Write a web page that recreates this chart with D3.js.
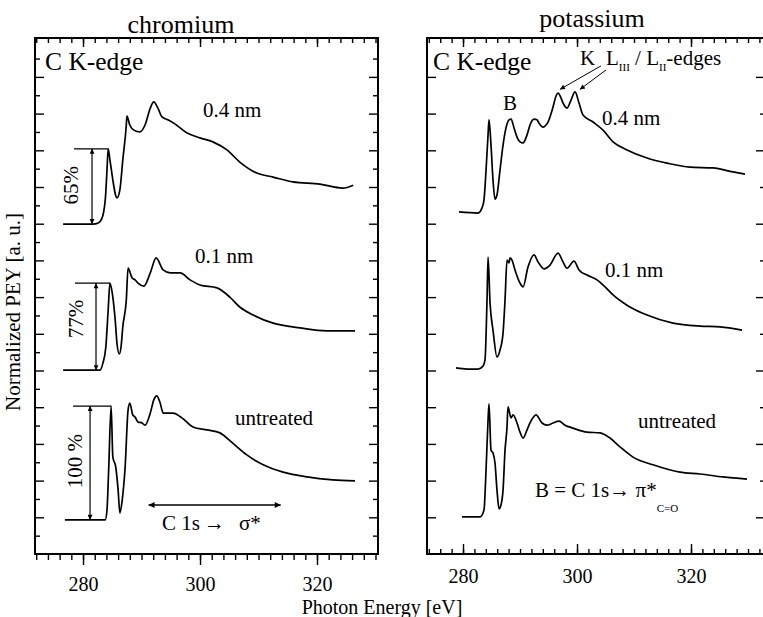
<!DOCTYPE html>
<html><head><meta charset="utf-8">
<script src="https://cdn.jsdelivr.net/npm/d3@7"></script>
<style>
body{margin:0;background:#fff}
svg{display:block}
text{font-family:"Liberation Serif","Times New Roman",serif;fill:#000}
</style>
</head><body>
<svg id="chart" width="763" height="617"></svg>
<script>
// ---------- DATA ----------
// Photon energy ticks
const xTickValues = [280, 300, 320];
const panelTitles = ["chromium", "potassium"];
const curveLabels = ["0.4 nm", "0.1 nm", "untreated"];

// chromium, 0.4 nm
const crE04 = [276.6,281.7,282.6,283.2,283.8,284.1,284.3,284.6,285.1,285.6,285.8,286.3,286.8,287.4,287.5,288.0,288.7,289.7,290.6,291.5,292.1,292.8,293.5,294.5,295.7,297.8,300.0,302.2,304.6,306.8,309.7,312.5,315.9,320.5,324.4,326.2];
const crV04 = [8.99,8.99,9.02,9.13,9.65,10.46,11.04,10.74,10.19,9.76,9.70,9.92,10.74,11.69,11.93,11.69,11.55,11.50,11.69,12.15,12.32,12.15,11.91,11.83,11.72,11.47,11.34,11.23,11.01,10.68,10.38,10.27,10.14,10.08,9.97,10.05];
// chromium, 0.1 nm
const crE01 = [276.6,282.9,283.4,283.9,284.3,284.6,285.0,285.5,285.8,286.2,286.5,286.8,287.4,287.7,288.4,288.9,289.4,290.4,291.5,292.5,293.7,294.9,296.6,298.3,300.0,302.9,305.1,306.8,309.1,312.5,317.1,321.7,326.5];
const crV01 = [5.01,5.01,5.20,5.64,6.65,7.38,7.11,6.38,5.75,5.45,5.64,6.19,6.92,7.79,7.52,7.47,7.38,7.30,7.66,8.07,7.74,7.66,7.66,7.47,7.33,7.25,7.00,6.73,6.51,6.29,6.16,6.08,6.08];
// chromium, untreated
const crEun = [276.9,283.8,284.1,284.4,284.8,285.1,285.6,286.0,286.3,286.7,287.2,287.7,288.0,288.5,288.9,289.4,290.1,290.6,291.5,292.1,292.6,293.2,293.7,295.4,296.9,298.8,301.2,303.4,305.6,308.0,310.8,314.2,318.3,322.7,326.5];
const crVun = [0.93,0.93,1.20,2.37,4.03,2.64,2.37,1.74,1.12,1.47,2.37,3.92,4.11,3.79,3.73,3.60,3.57,3.51,3.84,4.20,4.31,4.11,3.84,3.84,3.71,3.46,3.38,3.30,3.02,2.70,2.43,2.23,2.10,2.02,1.99];

// potassium, 0.4 nm
const kE04 = [279.3,282.63,283.33,283.68,284.04,284.39,284.56,284.91,285.26,285.61,285.96,286.49,287.02,287.54,288.07,288.42,288.95,289.47,290.0,290.53,291.23,291.75,292.46,292.98,293.33,294.04,294.56,294.91,295.79,296.32,296.67,297.19,297.54,298.25,298.95,299.65,300.35,301.05,302.81,304.56,306.32,308.77,312.28,315.79,319.82,323.86,327.37,329.47];
const kV04 = [9.32,9.29,9.43,9.65,10.46,11.42,11.83,11.14,10.19,9.67,9.78,10.46,11.14,11.61,11.83,11.85,11.61,11.36,11.23,11.20,11.42,11.69,11.85,11.83,11.74,11.63,11.69,11.77,12.18,12.48,12.56,12.43,12.29,12.15,12.37,12.59,12.29,11.96,11.77,11.55,11.23,11.01,10.79,10.65,10.54,10.52,10.41,10.35];
// potassium, 0.1 nm
const kE01 = [278.77,280.70,282.63,283.51,283.86,284.21,284.39,284.74,285.26,285.96,286.49,287.02,287.37,287.72,288.07,288.25,288.60,289.12,290.0,290.53,291.40,292.46,293.16,294.21,295.26,296.67,297.54,298.25,299.47,300.35,301.75,303.51,304.91,306.32,308.77,312.28,316.84,321.58,325.09,328.95];
const kV01 = [5.07,5.04,5.04,5.12,5.29,6.92,8.09,6.84,6.10,5.37,5.56,6.02,6.92,8.01,7.93,8.07,8.01,7.74,7.38,7.28,7.82,8.15,7.96,7.77,7.87,8.20,7.96,7.79,7.98,7.74,7.60,7.47,7.28,7.06,6.78,6.51,6.29,6.21,6.19,6.10];
// potassium, untreated
const kEun = [279.82,282.98,283.68,284.04,284.39,284.56,284.91,285.26,285.61,285.96,286.32,286.67,287.02,287.37,287.72,287.89,288.42,288.77,289.47,290.0,290.53,291.23,291.75,292.81,293.86,294.74,295.79,296.84,297.89,299.30,301.75,304.04,305.79,307.54,309.82,313.33,318.07,321.58,325.61,329.82];
const kVun = [1.01,1.01,1.20,2.29,3.65,4.09,2.83,2.75,2.48,1.74,1.23,1.34,1.74,2.83,3.46,4.01,3.71,3.79,3.57,3.32,3.16,3.38,3.57,3.79,3.57,3.51,3.57,3.62,3.51,3.43,3.32,3.30,3.16,2.92,2.64,2.43,2.23,2.18,2.10,2.04];

// edge-jump brackets (chromium panel)
const bracketLabels = ["65%", "77%", "100 %"];
const bracketTop    = [11.04, 7.38, 4.03];
const bracketBottom = [8.99, 5.01, 0.93];
const bracketStartE = [278.46, 278.63, 278.29];
const bracketEndE   = [284.3, 284.6, 284.8];
const bracketArrowE = [281.54, 282.22, 281.20];
const bracketLabelE = [279.15, 280.0, 279.83];
const bracketLabelV = [10.05, 6.40, 2.53];

// ---------- SETUP ----------
const svg = d3.select("#chart");
const y  = d3.scaleLinear().domain([0, 14.06]).range([554, 38]);
const xL = d3.scaleLinear().domain([271.79, 330.43]).range([35, 378]);
const xR = d3.scaleLinear().domain([273.68, 332.63]).range([427, 763]);

const defs = svg.append("defs");
defs.append("marker").attr("id","ah").attr("viewBox","0 0 10 10")
  .attr("refX",10).attr("refY",5).attr("markerWidth",11).attr("markerHeight",6)
  .attr("markerUnits","userSpaceOnUse").attr("orient","auto-start-reverse")
  .append("path").attr("d","M0,0 L10,5 L0,10 Z").attr("fill","#000");
defs.append("marker").attr("id","ahs").attr("viewBox","0 0 10 10")
  .attr("refX",10).attr("refY",5).attr("markerWidth",9).attr("markerHeight",5)
  .attr("markerUnits","userSpaceOnUse").attr("orient","auto-start-reverse")
  .append("path").attr("d","M0,0 L10,5 L0,10 Z").attr("fill","#000");

function styleAxis(g){
  g.select(".domain").remove();
  g.selectAll(".tick line").attr("stroke","#000").attr("stroke-width",1.4);
  g.attr("font-family",null).attr("font-size",null);
}

// ---------- FRAMES ----------
svg.append("rect").attr("x",xL.range()[0]).attr("y",y.range()[1])
  .attr("width",xL.range()[1]-xL.range()[0]).attr("height",y.range()[0]-y.range()[1])
  .attr("fill","none").attr("stroke","#000").attr("stroke-width",2);
svg.append("path")
  .attr("d",`M${xR.range()[1]+2},${y.range()[1]} H${xR.range()[0]} V${y.range()[0]} H${xR.range()[1]+2}`)
  .attr("fill","none").attr("stroke","#000").attr("stroke-width",2);

// ---------- AXES: chromium ----------
const minorL = d3.range(272, 331, 2);
svg.append("g").attr("transform","translate(0,554)")
  .call(d3.axisBottom(xL).tickValues(minorL).tickSize(6).tickFormat("")).call(styleAxis);
const bL = svg.append("g").attr("transform","translate(0,554)")
  .call(d3.axisBottom(xL).tickValues(xTickValues).tickSize(11).tickFormat(d3.format("d"))).call(styleAxis);
bL.selectAll("text").attr("y",37).attr("dy",null).attr("font-size",20);

svg.append("g").attr("transform","translate(0,38)")
  .call(d3.axisBottom(xL).tickValues(minorL).tickSize(5).tickFormat("")).call(styleAxis);
svg.append("g").attr("transform","translate(0,38)")
  .call(d3.axisBottom(xL).tickValues(xTickValues).tickSize(9).tickFormat("")).call(styleAxis);

const halfTicks = d3.range(0.5, 14, 1);
const intTicks = d3.range(1, 14, 1);
svg.append("g").attr("transform","translate(35,0)")
  .call(d3.axisRight(y).tickValues(halfTicks).tickSize(5).tickFormat("")).call(styleAxis);
svg.append("g").attr("transform","translate(35,0)")
  .call(d3.axisRight(y).tickValues(intTicks).tickSize(9).tickFormat("")).call(styleAxis);
svg.append("g").attr("transform","translate(378,0)")
  .call(d3.axisLeft(y).tickValues(halfTicks).tickSize(5).tickFormat("")).call(styleAxis);
svg.append("g").attr("transform","translate(378,0)")
  .call(d3.axisLeft(y).tickValues(intTicks).tickSize(9).tickFormat("")).call(styleAxis);

// ---------- AXES: potassium ----------
const minorR = d3.range(274, 333, 2);
svg.append("g").attr("transform","translate(0,554)")
  .call(d3.axisTop(xR).tickValues(minorR).tickSize(5).tickFormat("")).call(styleAxis);
const bR = svg.append("g").attr("transform","translate(0,554)")
  .call(d3.axisTop(xR).tickValues(xTickValues).tickSize(10).tickFormat(d3.format("d"))).call(styleAxis);
bR.selectAll("text").attr("y",29).attr("dy",null).attr("font-size",20);
svg.append("g").attr("transform","translate(0,38)")
  .call(d3.axisBottom(xR).tickValues(minorR).tickSize(5).tickFormat("")).call(styleAxis);
svg.append("g").attr("transform","translate(0,38)")
  .call(d3.axisBottom(xR).tickValues(xTickValues).tickSize(9).tickFormat("")).call(styleAxis);
svg.append("g").attr("transform","translate(427,0)")
  .call(d3.axisRight(y).tickValues(intTicks).tickSize(9).tickFormat("")).call(styleAxis);
const rr = svg.append("g").attr("transform","translate(763,0)")
  .call(d3.axisLeft(y).tickValues(intTicks).tickSize(6).tickFormat("")).call(styleAxis);
rr.selectAll(".tick line").attr("x2", d => d % 2 ? -7 : -3);

// ---------- CURVES ----------
function drawCurve(xs, E, V){
  const data = E.map((e,i)=>[e, V[i]]);
  svg.append("path").datum(data)
    .attr("fill","none").attr("stroke","#000").attr("stroke-width",1.7)
    .attr("stroke-linejoin","round")
    .attr("d", d3.line().x(d=>xs(d[0])).y(d=>y(d[1])).curve(d3.curveMonotoneX));
}
drawCurve(xL, crE04, crV04);
drawCurve(xL, crE01, crV01);
drawCurve(xL, crEun, crVun);
drawCurve(xR, kE04, kV04);
drawCurve(xR, kE01, kV01);
drawCurve(xR, kEun, kVun);

// ---------- BRACKETS ----------
bracketLabels.forEach((lab,i)=>{
  svg.append("line").attr("x1",xL(bracketStartE[i])).attr("x2",xL(bracketEndE[i]))
    .attr("y1",y(bracketTop[i])).attr("y2",y(bracketTop[i])).attr("stroke","#000").attr("stroke-width",1.3);
  svg.append("line").attr("x1",xL(bracketArrowE[i])).attr("x2",xL(bracketArrowE[i]))
    .attr("y1",y(bracketBottom[i])).attr("y2",y(bracketTop[i])).attr("stroke","#000").attr("stroke-width",1.2)
    .attr("marker-start","url(#ahs)").attr("marker-end","url(#ahs)");
  svg.append("text").attr("transform",`translate(${xL(bracketLabelE[i])},${y(bracketLabelV[i])}) rotate(-90)`)
    .attr("text-anchor","middle").attr("font-size",21).text(lab);
});

// C 1s -> sigma* arrow
svg.append("line").attr("x1",xL(291.2)).attr("x2",xL(313.8)).attr("y1",y(1.335)).attr("y2",y(1.335))
  .attr("stroke","#000").attr("stroke-width",1.3)
  .attr("marker-start","url(#ah)").attr("marker-end","url(#ah)");
const cs = svg.append("text").attr("y",530).attr("font-size",21);
cs.append("tspan").attr("x",162).text("C 1s");
cs.append("tspan").attr("x",204).text("\u2192");
cs.append("tspan").attr("x",239).text("\u03c3*");

// K L-edge arrows
svg.append("line").attr("x1",xR(304.2)).attr("y1",y(13.30)).attr("x2",xR(297.0)).attr("y2",y(12.66))
  .attr("stroke","#000").attr("stroke-width",1).attr("marker-end","url(#ahs)");
svg.append("line").attr("x1",xR(305.1)).attr("y1",y(13.19)).attr("x2",xR(300.5)).attr("y2",y(12.66))
  .attr("stroke","#000").attr("stroke-width",1).attr("marker-end","url(#ahs)");

// ---------- TEXT ----------
svg.append("text").attr("x",181).attr("y",33).attr("text-anchor","middle").attr("font-size",26).text(panelTitles[0]);
svg.append("text").attr("x",592).attr("y",27).attr("text-anchor","middle").attr("font-size",26).text(panelTitles[1]);
svg.append("text").attr("x",45).attr("y",70).attr("font-size",25.5).text("C K-edge");
svg.append("text").attr("x",433).attr("y",70).attr("font-size",25.5).text("C K-edge");

svg.append("text").attr("x",203).attr("y",117).attr("font-size",21).text(curveLabels[0]);
svg.append("text").attr("x",195).attr("y",263).attr("font-size",21).text(curveLabels[1]);
svg.append("text").attr("x",235).attr("y",425).attr("font-size",21).text(curveLabels[2]);
svg.append("text").attr("x",602).attr("y",125).attr("font-size",21).text(curveLabels[0]);
svg.append("text").attr("x",605).attr("y",277).attr("font-size",21).text(curveLabels[1]);
svg.append("text").attr("x",638).attr("y",428).attr("font-size",21).text(curveLabels[2]);

svg.append("text").attr("x",503).attr("y",110).attr("font-size",21).text("B");
svg.append("text").attr("x",580).attr("y",65).attr("font-size",21).text("K");
const kl = svg.append("text").attr("x",606).attr("y",65).attr("font-size",21);
kl.append("tspan").text("L");
kl.append("tspan").attr("font-size",11).attr("dy",6).text("III");
kl.append("tspan").attr("dy",-6).text(" / L");
kl.append("tspan").attr("font-size",11).attr("dy",6).text("II");
kl.append("tspan").attr("dy",-6).text("-edges");

const bt = svg.append("text").attr("x",535).attr("y",497).attr("font-size",21);
bt.append("tspan").text("B = C 1s\u2192 \u03c0*");
bt.append("tspan").attr("font-size",11).attr("dy",15).text("C=O");

svg.append("text").attr("transform","translate(20,312) rotate(-90)").attr("text-anchor","middle")
  .attr("font-size",21).text("Normalized PEY [a. u.]");
svg.append("text").attr("x",382).attr("y",614).attr("text-anchor","middle").attr("font-size",20).text("Photon Energy [eV]");
</script>
</body></html>
